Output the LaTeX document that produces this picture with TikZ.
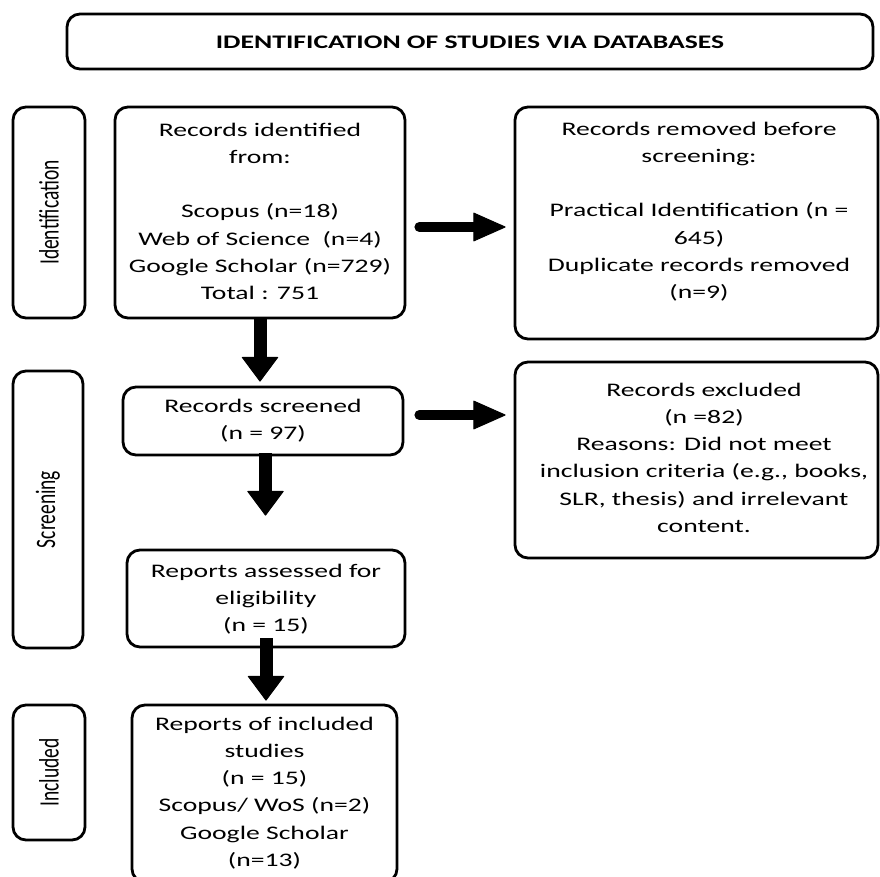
\documentclass[tikz,border=0pt]{standalone}
\usepackage{fontspec}
\usepackage{graphicx}
\setmainfont{Carlito}[FakeStretch=1.44]
\newfontfamily\sidefont{Carlito}
\usetikzlibrary{arrows.meta}
\begin{document}
\begin{tikzpicture}[x=1pt,y=-1pt,
  box/.style={draw, line width=2.8pt, rounded corners=13pt, inner sep=0pt},
  txt/.style={anchor=north, inner sep=0pt, align=center, font=\fontsize{19.2}{27.2}\selectfont},
  sidetxt/.style={font=\sidefont\fontsize{19.5}{20}\selectfont},
  varrow/.style={line width=13pt, -{Triangle[width=37pt,length=25pt,line width=1pt,round]}},
  harrow/.style={line width=10pt, line cap=round, -{Triangle[width=29pt,length=33pt,line width=1pt,round]}},
]
\useasboundingbox (0,0) rectangle (880,876);
\clip (0,0) rectangle (880,876);
\fill[white] (0,0) rectangle (880,876);

% title
\node[box, minimum width=806pt, minimum height=55pt] (title) at (470,41.5) {};
\node[inner sep=0pt, anchor=base, font=\bfseries\fontsize{19.2}{27.2}\selectfont] (titletext) at (470,48) {IDENTIFICATION OF STUDIES VIA DATABASES};

% side boxes
\node[box, minimum width=72pt, minimum height=211pt] (sid) at (49,212.5)
  {\rotatebox{90}{\scalebox{1}[1.44]{\sidefont\fontsize{19.5}{20}\selectfont Identification}}};
\node[box, minimum width=70pt, minimum height=277pt] (sscr) at (48,509.5)
  {\rotatebox{90}{\scalebox{1}[1.44]{\sidefont\fontsize{19.5}{20}\selectfont Screening}}};
\node[box, minimum width=72pt, minimum height=135pt] (sinc) at (49,772.5)
  {\rotatebox{90}{\scalebox{1}[1.44]{\sidefont\fontsize{19.5}{20}\selectfont Included}}};

% main boxes
\node[box, minimum width=290pt, minimum height=211pt] (id) at (260,212.5) {};
\node[box, minimum width=363pt, minimum height=232pt] (rem) at (696.5,223) {};
\node[box, minimum width=280pt, minimum height=68pt] (scr) at (263,421) {};
\node[box, minimum width=363pt, minimum height=196pt] (exc) at (696.5,460) {};
\node[box, minimum width=278pt, minimum height=97pt] (ass) at (266,598.5) {};
\node[box, minimum width=265pt, minimum height=177pt] (incl) at (264.5,793.5) {};

% texts
\node[txt] (idt) at (260,121) {\rule{0pt}{15pt}Records identified\\from:\\\mbox{}\\Scopus (n=18)\\Web of Science~ (n=4)\\Google Scholar (n=729)\\Total : 751};
\node[txt] (remt) at (699,120) {\rule{0pt}{15pt}Records removed before\\screening:\\\mbox{}\\Practical Identification (n =\\645)\\Duplicate records removed\\(n=9)};
\node[txt] (scrt) at (263,397) {\rule{0pt}{15pt}Records screened\\(n = 97)};
\node[txt] (exct) at (704,381) {\rule{0pt}{15pt}Records excluded\\(n =82)\\Reasons: Did not meet\\inclusion criteria (e.g., books,\\SLR, thesis) and irrelevant\\content.};
\node[txt] (asst) at (266,562) {\rule{0pt}{15pt}Reports assessed for\\eligibility\\(n = 15)};
\node[txt] (inclt) at (264.5,715) {\rule{0pt}{15pt}Reports of included\\studies\\(n = 15)\\Scopus/ WoS (n=2)\\Google Scholar\\(n=13)};

% arrows
\draw[varrow, shorten >=4pt] (id.south) -- (scr.north -| id.south);
\coordinate (s2) at ([xshift=2.5pt,yshift=3pt]scr.south);
\draw[varrow, shorten >=33pt] (s2) -- (s2 |- ass.north);
\coordinate (s3) at ([yshift=10pt]ass.south);
\draw[varrow, shorten >=3pt] (s3) -- (s3 |- incl.north);
\coordinate (h1) at ([yshift=-14.5pt]id.east);
\draw[harrow, shorten <=13pt, shorten >=8pt] (h1) -- (h1 -| rem.west);
\coordinate (h2) at ([yshift=6pt]scr.east);
\draw[harrow, shorten <=15pt, shorten >=8pt] (h2) -- (h2 -| exc.west);
\end{tikzpicture}
\end{document}
